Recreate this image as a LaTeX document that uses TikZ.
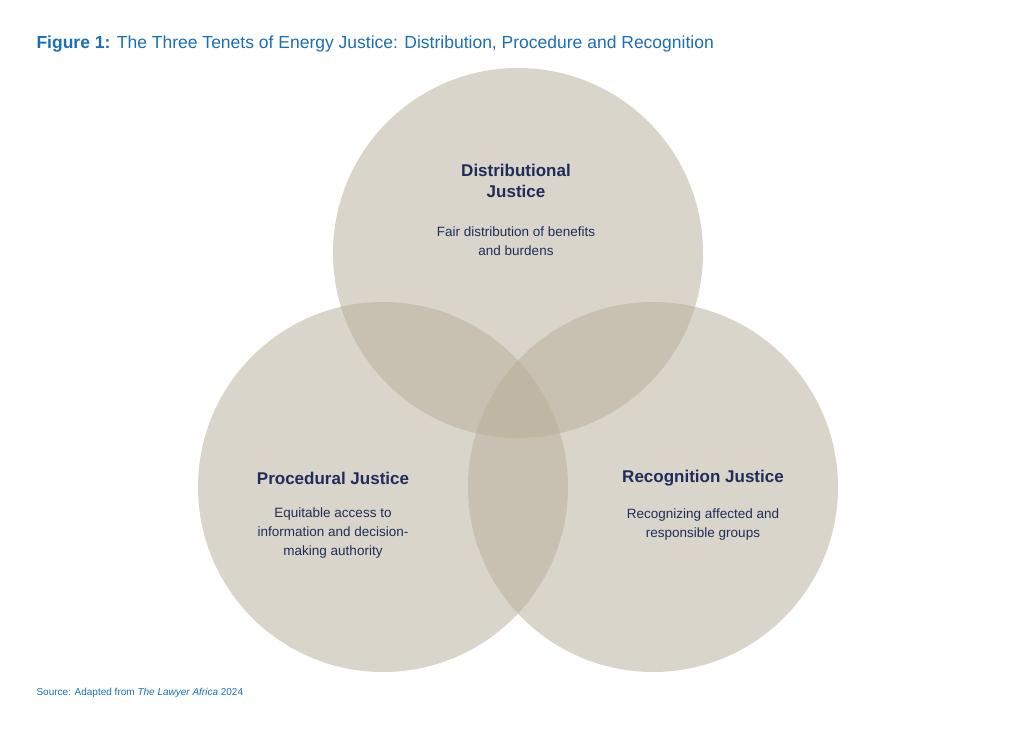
\documentclass[tikz,border=0pt]{standalone}
\usepackage{fontspec}
\setmainfont{Liberation Sans}
\definecolor{blu}{HTML}{1A6FB5}
\definecolor{navy}{HTML}{1F2D5C}
\definecolor{circ}{RGB}{183,173,151}
\begin{document}
\begin{tikzpicture}[x=1pt,y=-1pt,
  circ/.style={fill=circ,fill opacity=0.5,draw=none},
  head/.style={text=navy,font=\bfseries\fontsize{17}{21}\selectfont,align=center},
  body/.style={text=navy,font=\fontsize{13.5}{19}\selectfont,align=center}]
\useasboundingbox (0,0) rectangle (1024,734);
\fill[white] (0,0) rectangle (1024,734);
\path[circ] (518,253) circle (185);
\path[circ] (383,487) circle (185);
\path[circ] (653,487) circle (185);
\node[anchor=west,text=blu,font=\fontsize{17.5}{21}\selectfont] (title) at (33,44) {\textbf{Figure 1:} The Three Tenets of Energy Justice: Distribution, Procedure and Recognition};
\node[head] (dh) at (516,181) {Distributional\\Justice};
\node[body] (db) at (516,241) {Fair distribution of benefits\\and burdens};
\node[head] (ph) at (333,478) {Procedural Justice};
\node[body] (pb) at (333,533) {Equitable access to\\information and decision-\\making authority};
\node[head] (rh) at (703,478) {Recognition Justice};
\node[body] (rb) at (703,524) {Recognizing affected and\\responsible groups};
\node[anchor=west,text=blu,font=\fontsize{10}{12}\selectfont] (src) at (33,693) {Source: Adapted from \textit{The Lawyer Africa} 2024};
\end{tikzpicture}
\end{document}
